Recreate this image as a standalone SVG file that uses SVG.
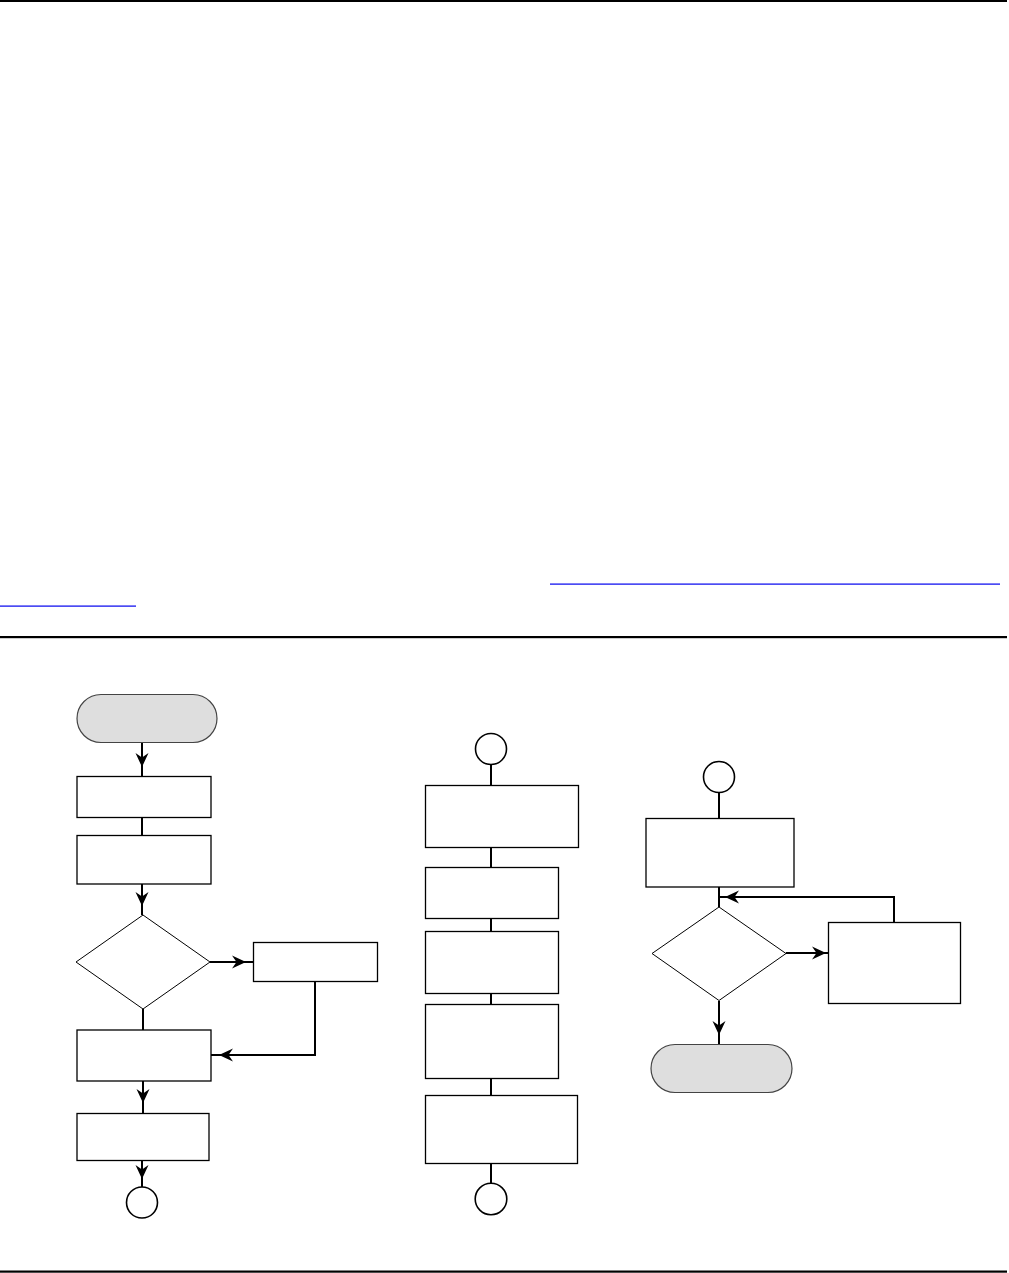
<svg xmlns="http://www.w3.org/2000/svg" width="1009" height="1273" viewBox="0 0 1009 1273">
<style>
.box{fill:#fff;stroke:#000;stroke-width:1.3}
.term{fill:#dedede;stroke:#444;stroke-width:1.2}
.dia{fill:#fff;stroke:#000;stroke-width:1}
.circ{fill:#fff;stroke:#000;stroke-width:1.6}
.c{fill:none;stroke:#000;stroke-width:2}
.a{fill:none;stroke:#000;stroke-width:2;marker-end:url(#arr)}
.rule{fill:#000}
.link{fill:#0000ee}
</style>
<defs>
<marker id="arr" markerUnits="userSpaceOnUse" viewBox="-16 -8 18 16" refX="0" refY="0" markerWidth="18" markerHeight="16" orient="auto">
<path d="M1,0 L-13,-6.5 L-8.5,0 L-13,6.5 Z" fill="#000"/>
</marker>
</defs>
<rect class="rule" x="0" y="0" width="1007" height="2"/>
<rect class="link" x="550" y="583.5" width="450" height="1.2"/>
<rect class="link" x="0" y="605.5" width="136" height="1.2"/>
<rect class="rule" x="0" y="636" width="1007" height="2.2"/>
<rect class="rule" x="0" y="1270.5" width="1007" height="2.2"/>

<g id="connectors">
<path class="a" d="M142,743 L142,766"/><path class="c" d="M142,766 L142,776"/>
<path class="c" d="M142,817 L142,835"/>
<path class="a" d="M142,884 L142,905"/><path class="c" d="M142,905 L142,915"/>
<path class="a" d="M210,962 L245,962"/><path class="c" d="M245,962 L253,962"/>
<path class="a" d="M315,981 L315,1055 L220,1055"/><path class="c" d="M220,1055 L211,1055"/>
<path class="c" d="M143,1009 L143,1030"/>
<path class="a" d="M143,1081 L143,1102"/><path class="c" d="M143,1102 L143,1113"/>
<path class="a" d="M142,1160 L142,1178"/><path class="c" d="M142,1178 L142,1187"/>

<path class="c" d="M491,764 L491,785"/>
<path class="c" d="M491,847 L491,867"/>
<path class="c" d="M491,918 L491,931"/>
<path class="c" d="M491,993 L491,1004"/>
<path class="c" d="M491,1078 L491,1095"/>
<path class="c" d="M491,1163 L491,1183"/>

<path class="c" d="M719,793 L719,818"/>
<path class="c" d="M719,887 L719,907"/>
<path class="a" d="M894,922 L894,897 L726,897"/><path class="c" d="M726,897 L719,897"/>
<path class="a" d="M786,953 L825,953"/><path class="c" d="M825,953 L829,953"/>
<path class="a" d="M719,1001 L719,1034"/><path class="c" d="M719,1034 L719,1044"/>
</g>

<g id="start"><rect class="term" x="77" y="694.5" width="140" height="48" rx="24"/></g>
<g id="box1"><rect class="box" x="77" y="776.5" width="134" height="41"/></g>
<g id="box2"><rect class="box" x="77" y="835.5" width="134" height="48.5"/></g>
<g id="dec1"><polygon class="dia" points="143,915 210,962 143,1009 76,962"/></g>
<g id="side1"><rect class="box" x="253.5" y="942.5" width="124" height="39"/></g>
<g id="box3"><rect class="box" x="77" y="1030" width="134" height="51"/></g>
<g id="box4"><rect class="box" x="77" y="1113.5" width="132" height="47"/></g>
<g id="conA"><circle class="circ" cx="142" cy="1202.5" r="15.5"/></g>

<g id="conB"><circle class="circ" cx="491" cy="749" r="15.5"/></g>
<g id="m1"><rect class="box" x="425.5" y="785.5" width="153" height="62"/></g>
<g id="m2"><rect class="box" x="425.5" y="867.5" width="133" height="51"/></g>
<g id="m3"><rect class="box" x="425.5" y="931.5" width="133" height="62"/></g>
<g id="m4"><rect class="box" x="425.5" y="1004.5" width="133" height="74"/></g>
<g id="m5"><rect class="box" x="425.5" y="1095.5" width="152" height="68"/></g>
<g id="conC"><circle class="circ" cx="491" cy="1199" r="15.8"/></g>

<g id="conD"><circle class="circ" cx="719" cy="777" r="15.5"/></g>
<g id="r1"><rect class="box" x="646" y="818.5" width="148" height="68.5"/></g>
<g id="dec2"><polygon class="dia" points="719,907 786,953.5 719,1000.5 652,953.5"/></g>
<g id="r2"><rect class="box" x="828.5" y="922.5" width="132" height="81"/></g>
<g id="end"><rect class="term" x="651" y="1044.5" width="141" height="48" rx="24"/></g>
</svg>
